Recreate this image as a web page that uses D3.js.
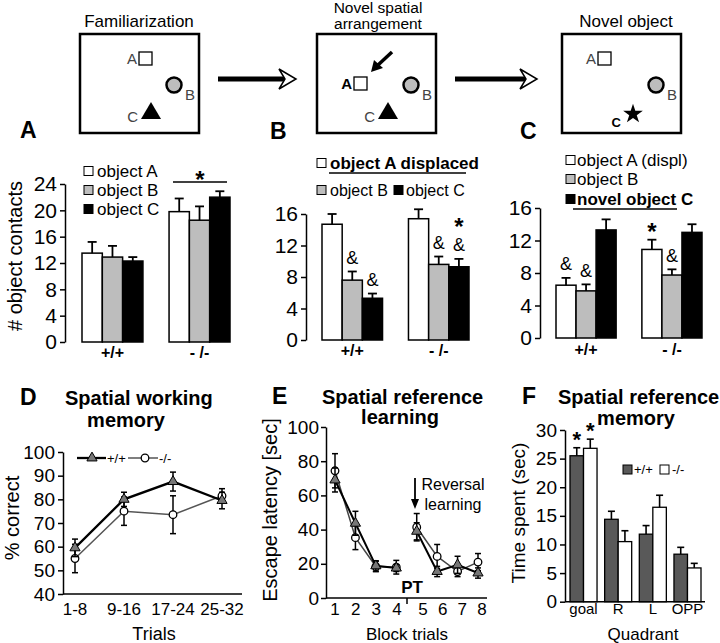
<!DOCTYPE html>
<html>
<head>
<meta charset="utf-8">
<script src="https://cdn.jsdelivr.net/npm/d3@7"></script>
<style>
  body { margin: 0; background: #fff; }
</style>
</head>
<body>
<div id="fig"></div>
<script>
// ---------- data ----------
var genotypes = ['+/+', '- /-'];
var objects   = ['A', 'B', 'C'];
var objFill   = { A: '#fff', B: '#bdbdbd', C: '#000' };

// object contacts, [genotype][object], mean and sem
var contactsA    = [[13.5, 12.9, 12.3], [19.8, 18.5, 22.0]];
var contactsASem = [[1.7, 1.7, 0.6],    [2.0, 2.1, 0.9]];
var contactsB    = [[14.7, 7.6, 5.3],   [15.4, 9.6, 9.3]];
var contactsBSem = [[1.3, 1.1, 0.6],    [1.2, 1.0, 1.0]];
var contactsC    = [[6.5, 5.8, 13.3],   [10.9, 7.75, 13.0]];
var contactsCSem = [[0.9, 0.8, 1.3],    [1.2, 0.7, 1.0]];

// significance marks: genotype index, object index, symbol
var marksA = [];
var marksB = [[0, 1, '&'], [0, 2, '&'], [1, 1, '&'], [1, 2, '&'], [1, 2, '*']];
var marksC = [[0, 0, '&'], [0, 1, '&'], [1, 0, '*'], [1, 1, '&']];

// D: spatial working memory
var trialBins = ['1-8', '9-16', '17-24', '25-32'];
var wmWt      = [59.5, 80.0, 87.5, 79.5];
var wmWtSem   = [3.7, 3.0, 4.0, 3.5];
var wmKo      = [55.0, 75.0, 73.5, 81.5];
var wmKoSem   = [6.0, 6.0, 8.0, 3.0];

// E: escape latency per block (1-4 learning, 5-8 reversal)
var blocks    = [1, 2, 3, 4, 5, 6, 7, 8];
var latWt     = [69.0, 43.7, 18.8, 17.5, 39.0, 15.5, 19.4, 14.6];
var latWtSem  = [7, 7, 3, 2, 5, 3, 5, 3];
var latKo     = [74.4, 35.3, 18.4, 18.0, 41.4, 24.3, 15.5, 21.0];
var latKoSem  = [10, 7, 3, 4, 8, 7, 3, 5];

// F: probe trial, time per quadrant
var quadrants = ['goal', 'R', 'L', 'OPP'];
var timeWt    = [25.5, 14.4, 11.8, 8.3];
var timeWtSem = [1.4, 1.4, 1.5, 1.2];
var timeKo    = [26.8, 10.5, 16.5, 5.9];
var timeKoSem = [1.6, 1.9, 2.1, 0.8];

// ---------- setup ----------
var FONT   = '"Liberation Sans", Arial, sans-serif';
var NARROW = '"Liberation Sans Narrow", "Liberation Sans", Arial, sans-serif';

var svg = d3.select('#fig').append('svg')
    .attr('width', 720)
    .attr('height', 643)
    .attr('font-family', FONT);

function label(txt, x, y, size, opts) {
    opts = opts || {};
    return svg.append('text')
        .attr('x', x)
        .attr('y', y)
        .attr('font-size', size)
        .attr('font-weight', opts.bold ? 'bold' : 'normal')
        .attr('font-family', opts.font || FONT)
        .attr('text-anchor', opts.anchor || 'start')
        .attr('fill', opts.fill || '#000')
        .text(txt);
}

function yTitle(txt, x, y, size) {
    svg.append('text')
        .attr('transform', 'translate(' + x + ',' + y + ') rotate(-90)')
        .attr('text-anchor', 'middle')
        .attr('dominant-baseline', 'central')
        .attr('font-size', size)
        .text(txt);
}

function styleAxis(g, size) {
    g.attr('font-size', size).attr('font-family', FONT);
    g.selectAll('path, line').attr('stroke', '#000').attr('stroke-width', 1.5);
    g.selectAll('text').attr('fill', '#000');
}

function hline(x1, x2, y, w) {
    svg.append('line').attr('x1', x1).attr('x2', x2).attr('y1', y).attr('y2', y)
        .attr('stroke', '#000').attr('stroke-width', w || 1.5);
}

// ---------- schematic: the three sessions ----------
var BOX_Y = 34, BOX_W = 119, BOX_H = 99;
var boxLeft = [80, 317, 562];

label('Familiarization', 139, 27, 17, { anchor: 'middle' });
label('Novel spatial', 378, 13, 15.5, { anchor: 'middle' });
label('arrangement', 378, 29, 15.5, { anchor: 'middle' });
label('Novel object', 626, 27, 17, { anchor: 'middle' });

boxLeft.forEach(function(bx) {
    svg.append('rect')
        .attr('x', bx).attr('y', BOX_Y)
        .attr('width', BOX_W).attr('height', BOX_H)
        .attr('fill', 'none').attr('stroke', '#000').attr('stroke-width', 2.5);
});

// object A (square), with its letter
[[80, 139, 52, false], [317, 354, 77, true], [562, 598, 52, false]].forEach(function(d) {
    svg.append('rect').attr('x', d[1]).attr('y', d[2]).attr('width', 13).attr('height', 13)
        .attr('fill', '#fff').attr('stroke', '#000').attr('stroke-width', 1.3);
    label('A', d[1] - 2, d[2] + 12, 15, { anchor: 'end', bold: d[3], fill: d[3] ? '#000' : '#444' });
});

// object B (grey disc)
boxLeft.forEach(function(bx) {
    svg.append('circle').attr('cx', bx + 94).attr('cy', 85).attr('r', 7.5)
        .attr('fill', '#bdbdbd').attr('stroke', '#000').attr('stroke-width', 2.5);
    label('B', bx + 105, 100, 15, { fill: '#444' });
});

// object C (triangle, then star)
[80, 317].forEach(function(bx) {
    var cx = bx + 71;
    svg.append('path')
        .attr('d', 'M' + cx + ',102L' + (cx + 10) + ',119L' + (cx - 10) + ',119Z')
        .attr('fill', '#000');
    label('C', cx - 13, 122, 15, { anchor: 'end', fill: '#444' });
});
svg.append('path')
    .attr('transform', 'translate(633,114)')
    .attr('d', d3.symbol().type(d3.symbolStar).size(120)())
    .attr('fill', '#000');
label('C', 621, 127, 13, { anchor: 'end', bold: true });

// pointer to the displaced object
svg.append('line').attr('x1', 392).attr('y1', 52).attr('x2', 378).attr('y2', 65)
    .attr('stroke', '#000').attr('stroke-width', 3.5);
svg.append('path').attr('d', 'M371,72L374,60L383,68Z').attr('fill', '#000');

// arrows between sessions
[[218, 296], [455, 537]].forEach(function(a) {
    var y = 79;
    svg.append('line').attr('x1', a[0]).attr('x2', a[1] - 10).attr('y1', y).attr('y2', y)
        .attr('stroke', '#000').attr('stroke-width', 5);
    svg.append('path')
        .attr('d', 'M' + (a[1] - 17) + ',' + (y - 10) + 'L' + a[1] + ',' + y +
                   'L' + (a[1] - 17) + ',' + (y + 10) + 'L' + (a[1] - 11) + ',' + y + 'Z')
        .attr('fill', '#fff').attr('stroke', '#000').attr('stroke-width', 1.5);
});

// ---------- panels A, B, C: grouped bars ----------
var barPanels = [
    { means: contactsA, sems: contactsASem, marks: marksA, max: 24, axisX: 65,  x0: 82,  x1: 230, y0: 342, y1: 184, labelY: 358 },
    { means: contactsB, sems: contactsBSem, marks: marksB, max: 16, axisX: 306, x0: 322, x1: 469, y0: 340, y1: 214, labelY: 356 },
    { means: contactsC, sems: contactsCSem, marks: marksC, max: 16, axisX: 540, x0: 556, x1: 702, y0: 338, y1: 208, labelY: 355 }
];

barPanels.forEach(function(p) {
    var x  = d3.scaleBand().domain(genotypes).range([p.x0, p.x1]).paddingInner(0.3);
    var xo = d3.scaleBand().domain(objects).range([0, x.bandwidth()]);
    var y  = d3.scaleLinear().domain([0, p.max]).range([p.y0, p.y1]);

    var ax = svg.append('g')
        .attr('transform', 'translate(' + p.axisX + ',0)')
        .call(d3.axisLeft(y).tickValues(d3.range(0, p.max + 1, 4)).tickSize(5).tickSizeOuter(0).tickPadding(3));
    styleAxis(ax, 21);

    var bars = [];
    genotypes.forEach(function(g, gi) {
        objects.forEach(function(o, oi) {
            bars.push({ g: g, o: o, m: p.means[gi][oi], s: p.sems[gi][oi] });
        });
    });

    svg.append('g').selectAll('rect')
        .data(bars)
        .enter()
        .append('rect')
        .attr('x', function(d) { return x(d.g) + xo(d.o); })
        .attr('y', function(d) { return y(d.m); })
        .attr('width', xo.bandwidth())
        .attr('height', function(d) { return y(0) - y(d.m); })
        .attr('fill', function(d) { return objFill[d.o]; })
        .attr('stroke', '#000')
        .attr('stroke-width', 1.5);

    // upper error bars with caps
    var eb = svg.append('g').selectAll('g')
        .data(bars)
        .enter()
        .append('g')
        .attr('transform', function(d) { return 'translate(' + (x(d.g) + xo(d.o) + xo.bandwidth() / 2) + ',0)'; });
    eb.append('line')
        .attr('y1', function(d) { return y(d.m); })
        .attr('y2', function(d) { return y(d.m + d.s); })
        .attr('stroke', '#000').attr('stroke-width', 1.8);
    eb.append('line')
        .attr('x1', -4.5).attr('x2', 4.5)
        .attr('y1', function(d) { return y(d.m + d.s); })
        .attr('y2', function(d) { return y(d.m + d.s); })
        .attr('stroke', '#000').attr('stroke-width', 1.8);

    // significance marks above error bars
    var seen = {};
    p.marks.forEach(function(mk) {
        var gi = mk[0], oi = mk[1];
        var key = gi + '-' + oi;
        var lift = seen[key] ? 24 : 0;
        seen[key] = true;
        var top = y(p.means[gi][oi] + p.sems[gi][oi]) - 14 - lift;
        var cx = x(genotypes[gi]) + xo(objects[oi]) + xo.bandwidth() / 2;
        if (mk[2] === '*') {
            label('*', cx, top + 14, 24, { anchor: 'middle', bold: true });
        } else {
            label('&', cx, top + 6.5, 18, { anchor: 'middle' });
        }
    });

    // genotype labels
    genotypes.forEach(function(g) {
        label(g, x(g) + x.bandwidth() / 2, p.labelY, 16, { anchor: 'middle', bold: true });
    });
});

// panel A extras
yTitle('# object contacts', 15, 256, 20);
hline(173, 227, 182);
label('*', 200, 188, 24, { anchor: 'middle', bold: true });

// legends
function legSquare(x, yc, fill) {
    svg.append('rect').attr('x', x).attr('y', yc - 4.5).attr('width', 9).attr('height', 9)
        .attr('fill', fill).attr('stroke', '#000').attr('stroke-width', 1);
}
[['object A', 171], ['object B', 190], ['object C', 209]].forEach(function(d, i) {
    legSquare(84, d[1], objFill[objects[i]]);
    label(d[0], 97, d[1] + 6, 17);
});

legSquare(317, 163, objFill.A);
label('object A displaced', 330, 169, 17, { bold: true });
hline(329, 466, 173, 1.5);
legSquare(317, 190, objFill.B);
label('object B', 330, 196, 16);
legSquare(394, 190, objFill.C);
label('object C', 406, 196, 16);

legSquare(566, 160, objFill.A);
label('object A (displ)', 577, 166, 17);
legSquare(566, 179, objFill.B);
label('object B', 577, 185, 17);
legSquare(566, 199, objFill.C);
label('novel object C', 577, 205, 17, { bold: true });
hline(573, 677, 209, 1.5);

// panel letters and titles
[['A', 20, 138], ['B', 270, 139], ['C', 520, 139], ['D', 20, 405], ['E', 272, 404], ['F', 522, 404]].forEach(function(d) {
    label(d[0], d[1], d[2], 23, { bold: true });
});
label('Spatial working', 65, 405, 20, { bold: true });
label('memory', 126, 427, 20, { anchor: 'middle', bold: true });
label('Spatial reference', 322, 404, 20, { bold: true });
label('learning', 400, 424, 20, { anchor: 'middle', bold: true });
label('Spatial reference', 558, 404, 20, { bold: true });
label('memory', 636, 425, 20, { anchor: 'middle', bold: true });

// ---------- shared helpers for the line panels ----------
function triangleMark(g, cx, cy) {
    g.append('path')
        .attr('transform', 'translate(' + cx + ',' + cy + ')')
        .attr('d', d3.symbol().type(d3.symbolTriangle).size(45)())
        .attr('fill', '#777').attr('stroke', '#000').attr('stroke-width', 1);
}
function circleMark(g, cx, cy) {
    g.append('circle').attr('cx', cx).attr('cy', cy).attr('r', 3.8)
        .attr('fill', '#fff').attr('stroke', '#000').attr('stroke-width', 1.3);
}
function errBar(g, cx, yLo, yHi) {
    g.append('line').attr('x1', cx).attr('x2', cx).attr('y1', yLo).attr('y2', yHi)
        .attr('stroke', '#000').attr('stroke-width', 1.5);
    [yLo, yHi].forEach(function(v) {
        g.append('line').attr('x1', cx - 3).attr('x2', cx + 3).attr('y1', v).attr('y2', v)
            .attr('stroke', '#000').attr('stroke-width', 1.5);
    });
}
function series(xs, ys, means, sems, idx, color, width, marker) {
    var g = svg.append('g');
    var line = d3.line().x(function(i) { return xs(i); }).y(function(i) { return ys(means[i]); });
    idx.forEach(function(seg) {
        g.append('path').attr('d', line(seg)).attr('fill', 'none')
            .attr('stroke', color).attr('stroke-width', width);
    });
    d3.merge(idx).forEach(function(i) {
        errBar(g, xs(i), ys(means[i] - sems[i]), ys(means[i] + sems[i]));
    });
    d3.merge(idx).forEach(function(i) { marker(g, xs(i), ys(means[i])); });
}

// ---------- panel D ----------
var xD = d3.scalePoint().domain(trialBins).range([75, 222]);
var yD = d3.scaleLinear().domain([40, 100]).range([594, 452]);

var axD = svg.append('g').attr('transform', 'translate(63,0)')
    .call(d3.axisLeft(yD).tickValues(d3.range(40, 101, 10)).tickSize(5).tickSizeOuter(0).tickPadding(3));
styleAxis(axD, 19);
hline(63, 242, 594);
trialBins.forEach(function(t) { label(t, xD(t), 615, 17, { anchor: 'middle' }); });

var dIdx = [d3.range(trialBins.length)];
var xDi = function(i) { return xD(trialBins[i]); };
series(xDi, yD, wmKo, wmKoSem, dIdx, '#555', 1.5, circleMark);
series(xDi, yD, wmWt, wmWtSem, dIdx, '#000', 2.3, triangleMark);

yTitle('% correct', 12, 518, 20);
label('Trials', 154, 640, 18, { anchor: 'middle' });

// legend D
var legD = svg.append('g');
legD.append('line').attr('x1', 77).attr('x2', 106).attr('y1', 458).attr('y2', 458).attr('stroke', '#000').attr('stroke-width', 2.3);
triangleMark(legD, 92, 458);
label('+/+', 107, 463, 13);
legD.append('line').attr('x1', 128).attr('x2', 158).attr('y1', 458).attr('y2', 458).attr('stroke', '#555').attr('stroke-width', 1.5);
circleMark(legD, 145, 458);
label('-/-', 159, 463, 13);

// ---------- panel E ----------
var xE  = d3.scaleLinear().domain([1, 8]).range([335, 478]);
var xEl = d3.scaleLinear().domain([1, 4, 5, 8]).range([335, 397, 423, 482]); // label positions
var yE  = d3.scaleLinear().domain([0, 100]).range([598, 427]);

var axE = svg.append('g').attr('transform', 'translate(326,0)')
    .call(d3.axisLeft(yE).tickValues(d3.range(0, 101, 20)).tickSize(5).tickSizeOuter(0).tickPadding(2));
styleAxis(axE, 19);
hline(326, 487, 598);
svg.append('line').attr('x1', 407).attr('x2', 407).attr('y1', 598).attr('y2', 604)
    .attr('stroke', '#000').attr('stroke-width', 1.5);
blocks.forEach(function(b) { label(b, xEl(b), 615, 17, { anchor: 'middle' }); });

var eIdx = [[0, 1, 2, 3], [4, 5, 6, 7]];
var xEi = function(i) { return xE(blocks[i]); };
series(xEi, yE, latKo, latKoSem, eIdx, '#444', 1.5, circleMark);
series(xEi, yE, latWt, latWtSem, eIdx, '#000', 2, triangleMark);

label('PT', 412, 593, 17, { anchor: 'middle', bold: true });
label('Reversal', 453, 490, 16, { anchor: 'middle', font: NARROW });
label('learning', 453, 510, 16, { anchor: 'middle', font: NARROW });
svg.append('line').attr('x1', 415).attr('x2', 415).attr('y1', 478).attr('y2', 500)
    .attr('stroke', '#000').attr('stroke-width', 1.8);
svg.append('path').attr('d', 'M411,499L419,499L415,509Z').attr('fill', '#000');

yTitle('Escape latency [sec]', 270, 510, 20);
label('Block trials', 407, 640, 17, { anchor: 'middle' });

// ---------- panel F ----------
var xF  = d3.scaleBand().domain(quadrants).range([570, 701]).paddingInner(0.22);
var xFo = d3.scaleBand().domain(['wt', 'ko']).range([0, xF.bandwidth()]);
var yF  = d3.scaleLinear().domain([0, 30]).range([601.7, 430]);

var axF = svg.append('g').attr('transform', 'translate(565,0)')
    .call(d3.axisLeft(yF).tickValues(d3.range(0, 31, 5)).tickSize(5).tickSizeOuter(0).tickPadding(3));
styleAxis(axF, 19);
hline(565, 705, 601.7);

var fBars = [];
quadrants.forEach(function(q, i) {
    fBars.push({ q: q, k: 'wt', m: timeWt[i], s: timeWtSem[i] });
    fBars.push({ q: q, k: 'ko', m: timeKo[i], s: timeKoSem[i] });
});
var fb = svg.append('g').selectAll('g')
    .data(fBars)
    .enter()
    .append('g')
    .attr('transform', function(d) { return 'translate(' + (xF(d.q) + xFo(d.k)) + ',0)'; });
fb.append('rect')
    .attr('y', function(d) { return yF(d.m); })
    .attr('width', xFo.bandwidth())
    .attr('height', function(d) { return yF(0) - yF(d.m); })
    .attr('fill', function(d) { return d.k === 'wt' ? '#595959' : '#fff'; })
    .attr('stroke', '#000')
    .attr('stroke-width', 1.3);
fb.append('line')
    .attr('x1', xFo.bandwidth() / 2).attr('x2', xFo.bandwidth() / 2)
    .attr('y1', function(d) { return yF(d.m); })
    .attr('y2', function(d) { return yF(d.m + d.s); })
    .attr('stroke', '#000').attr('stroke-width', 1.6);
fb.append('line')
    .attr('x1', xFo.bandwidth() / 2 - 3.5).attr('x2', xFo.bandwidth() / 2 + 3.5)
    .attr('y1', function(d) { return yF(d.m + d.s); })
    .attr('y2', function(d) { return yF(d.m + d.s); })
    .attr('stroke', '#000').attr('stroke-width', 1.6);

// stars over the goal quadrant
fBars.slice(0, 2).forEach(function(d) {
    label('*', xF(d.q) + xFo(d.k) + xFo.bandwidth() / 2, yF(d.m + d.s) - 1, 22, { anchor: 'middle', bold: true });
});

quadrants.forEach(function(q) { label(q, xF(q) + xF.bandwidth() / 2, 614, 15, { anchor: 'middle', font: NARROW }); });
yTitle('Time spent (sec)', 518, 513, 19);
label('Quadrant', 643, 640, 17, { anchor: 'middle' });

svg.append('rect').attr('x', 623).attr('y', 465).attr('width', 9).attr('height', 9)
    .attr('fill', '#595959').attr('stroke', '#000').attr('stroke-width', 1);
label('+/+', 634, 474, 13);
svg.append('rect').attr('x', 660).attr('y', 465).attr('width', 9).attr('height', 9)
    .attr('fill', '#fff').attr('stroke', '#000').attr('stroke-width', 1);
label('-/-', 672, 474, 13);
</script>
</body>
</html>
